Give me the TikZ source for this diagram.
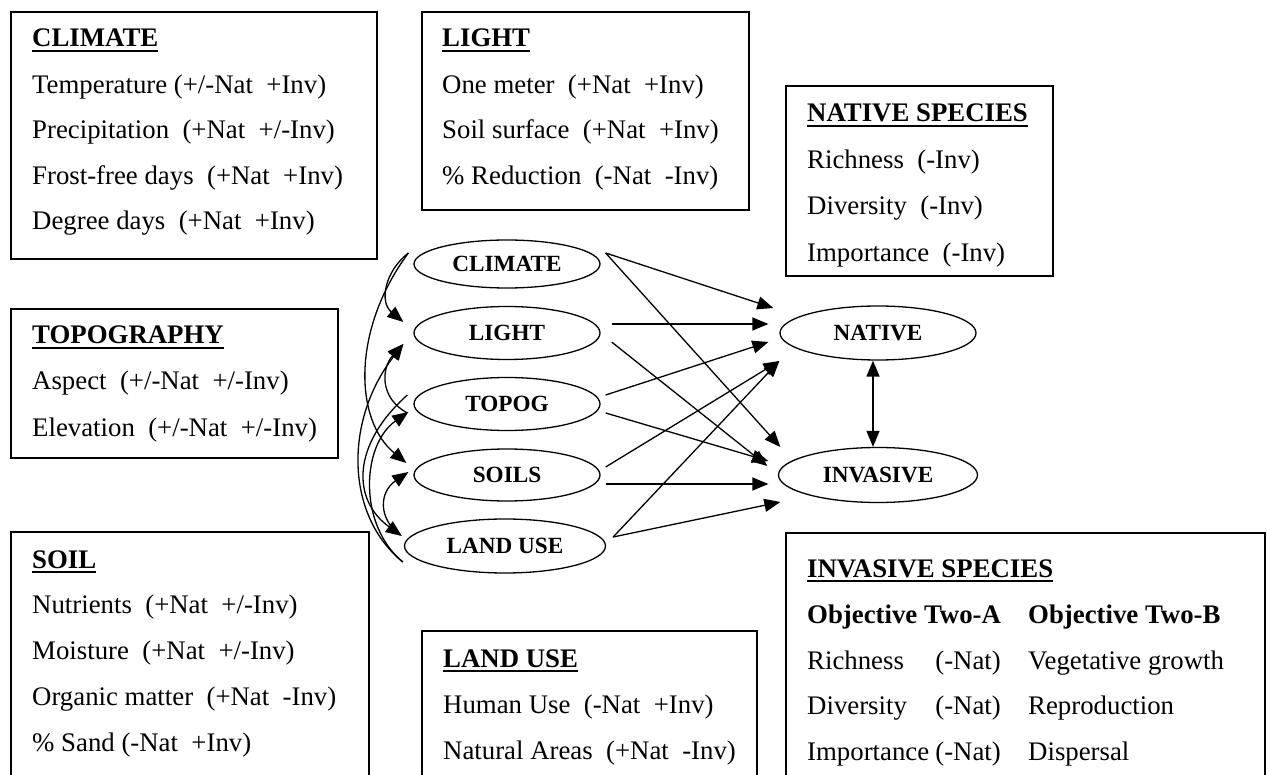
\documentclass[tikz,border=0pt]{standalone}
\usepackage{fontspec}
\setmainfont{Liberation Serif}
\usetikzlibrary{arrows.meta,shapes.geometric,calc}
\begin{document}
\begin{tikzpicture}[x=1pt,y=-1pt,
  box/.style={draw,line width=1.6pt},
  txt/.style={anchor=base west,inner sep=0pt,font=\fontsize{26.8}{30}\selectfont},
  ttl/.style={anchor=base west,inner sep=0pt,font=\fontsize{26.8}{30}\selectfont\bfseries},
  ell/.style={draw,ellipse,line width=1.3pt,inner sep=0pt,font=\fontsize{23.2}{26}\selectfont\bfseries},
  arr/.style={line width=1.3pt,-{Triangle[length=16pt,width=13pt]}},
  darr/.style={line width=1.3pt,{Triangle[length=16pt,width=13pt]}-{Triangle[length=16pt,width=13pt]}},
  ul/.style={line width=2.4pt}
]
\useasboundingbox (0,0) rectangle (1267,775);
\clip (0,0) rectangle (1267,775);

% ---------- boxes ----------
\draw[box] (11,12) rectangle (377,259);
\node[ttl] (clt) at (32,47) {CLIMATE};
\node[txt] (cl1) at (32,93.5) {Temperature (+/-Nat~~+Inv)};
\node[txt] (cl2) at (32,139) {Precipitation~~(+Nat~~+/-Inv)};
\node[txt] (cl3) at (32,184.5) {Frost-free days~~(+Nat~~+Inv)};
\node[txt] (cl4) at (32,230) {Degree days~~(+Nat~~+Inv)};

\draw[box] (422,12) rectangle (749,210);
\node[ttl] (lit) at (442,47) {LIGHT};
\node[txt] (li1) at (442,93.5) {One meter~~(+Nat~~+Inv)};
\node[txt] (li2) at (442,139) {Soil surface~~(+Nat~~+Inv)};
\node[txt] (li3) at (442,184.5) {\% Reduction~~(-Nat~~-Inv)};

\draw[box] (786,86) rectangle (1053,276);
\node[ttl] (nst) at (807,122) {NATIVE SPECIES};
\node[txt] (ns1) at (807,168.5) {Richness~~(-Inv)};
\node[txt] (ns2) at (807,215) {Diversity~~(-Inv)};
\node[txt] (ns3) at (807,261.5) {Importance~~(-Inv)};

\draw[box] (11,309) rectangle (338,458);
\node[ttl] (tpt) at (32,344) {TOPOGRAPHY};
\node[txt] (tp1) at (32,390) {Aspect~~(+/-Nat~~+/-Inv)};
\node[txt] (tp2) at (32,436.5) {Elevation~~(+/-Nat~~+/-Inv)};

\draw[box] (11,532) rectangle (369,800);
\node[ttl] (sot) at (32,568) {SOIL};
\node[txt] (so1) at (32,613.5) {Nutrients~~(+Nat~~+/-Inv)};
\node[txt] (so2) at (32,659) {Moisture~~(+Nat~~+/-Inv)};
\node[txt] (so3) at (32,705) {Organic matter~~(+Nat~~-Inv)};
\node[txt] (so4) at (32,751.5) {\% Sand (-Nat~~+Inv)};

\draw[box] (422,631) rectangle (757,800);
\node[ttl] (lut) at (443,667) {LAND USE};
\node[txt] (lu1) at (443,713) {Human Use~~(-Nat~~+Inv)};
\node[txt] (lu2) at (443,759) {Natural Areas~~(+Nat~~-Inv)};

\draw[box] (786,533) rectangle (1265,800);
\node[ttl] (ivt) at (807,577) {INVASIVE SPECIES};
\node[ttl] (oa) at (807,623) {Objective Two-A};
\node[ttl] (ob) at (1028,623) {Objective Two-B};
\node[txt] (iv1) at (807,669) {Richness};
\node[txt,anchor=base east] (iv1n) at (1001,669) {(-Nat)};
\node[txt] (iv1b) at (1028,669) {Vegetative growth};
\node[txt] (iv2) at (807,714.5) {Diversity};
\node[txt,anchor=base east] (iv2n) at (1001,714.5) {(-Nat)};
\node[txt] (iv2b) at (1028,714.5) {Reproduction};
\node[txt] (iv3) at (807,760) {Importance};
\node[txt,anchor=base east] (iv3n) at (1001,760) {(-Nat)};
\node[txt] (iv3b) at (1028,760) {Dispersal};

% underlines of titles
\foreach \t in {clt,lit,nst,tpt,sot,lut,ivt}
  \draw[ul] ($(\t.base west)+(0,4)$) -- ($(\t.base east)+(0,4)$);

% ---------- ellipses ----------
\node[ell,minimum width=186pt,minimum height=48pt] (climate) at (507,264) {CLIMATE};
\node[ell,minimum width=186pt,minimum height=53pt] (light) at (507,333) {LIGHT};
\node[ell,minimum width=186pt,minimum height=53pt] (topog) at (507,404) {TOPOG};
\node[ell,minimum width=186pt,minimum height=52pt] (soils) at (507,475) {SOILS};
\node[ell,minimum width=201pt,minimum height=54pt] (landuse) at (505,546) {LAND USE};
\node[ell,minimum width=196pt,minimum height=54pt] (native) at (878,333) {NATIVE};
\node[ell,minimum width=199pt,minimum height=55pt] (invasive) at (878,475) {INVASIVE};

% ---------- straight arrows ----------
\draw[arr] ($(climate.east)+(5,-11)$) -- ($(native.west)+(-6,-25)$);
\draw[arr] ($(climate.east)+(5,-11)$) -- ($(invasive.west)+(2.5,-28)$);
\draw[arr] ($(light.east)+(11,-9)$) -- ($(native.west)+(-11,-9)$);
\draw[arr] ($(light.east)+(11,9)$) -- ($(invasive.west)+(-10.5,-9)$);
\draw[arr] ($(topog.east)+(5,-9)$) -- ($(native.west)+(-11,9)$);
\draw[arr] ($(topog.east)+(5,9)$) -- ($(invasive.west)+(-9.5,-14)$);
\draw[arr] ($(soils.east)+(5,-8)$) -- ($(native.west)+(0,28)$);
\draw[arr] ($(soils.east)+(5,9)$) -- ($(invasive.west)+(-9.5,9)$);
\draw[arr] ($(landuse.east)+(7,-9)$) -- ($(native.west)+(0,28)$);
\draw[arr] ($(landuse.east)+(7,-9)$) -- ($(invasive.west)+(2.5,27)$);
\draw[darr] ($(native.south)+(-5,0)$) -- ($(invasive.north)+(-5,0)$);

% ---------- curved arrows on the left ----------
\draw[arr] ($(climate.west)+(-5,-11)$) .. controls +(-24,19) and +(-24,-20) .. ($(light.west)+(-10,-11)$);
\draw[arr] ($(climate.west)+(-5,-11)$) .. controls +(-57,77) and +(-52,-43) .. ($(soils.west)+(-7,-12)$);
\draw[arr] ($(topog.west)+(-6,-9)$) .. controls +(-56,50) and +(-50,-36) .. ($(landuse.west)+(-2,-10)$);
\draw[arr] ($(landuse.west)+(-1,16)$) .. controls +(-58,-47) and +(-59,76) .. ($(light.west)+(-10,11)$);
\draw[arr] ($(landuse.west)+(-1,16)$) .. controls +(-45,-37) and +(-47,33) .. ($(topog.west)+(-5,8)$);
\draw[arr] ($(topog.west)+(-6,9)$) .. controls +(-28,-15) and +(-22,24) .. ($(light.west)+(-10,11)$);
\draw[arr] ($(landuse.west)+(-4,-11)$) .. controls +(-22,-17) and +(-29,20) .. ($(soils.west)+(-5,-3)$);
\end{tikzpicture}
\end{document}
